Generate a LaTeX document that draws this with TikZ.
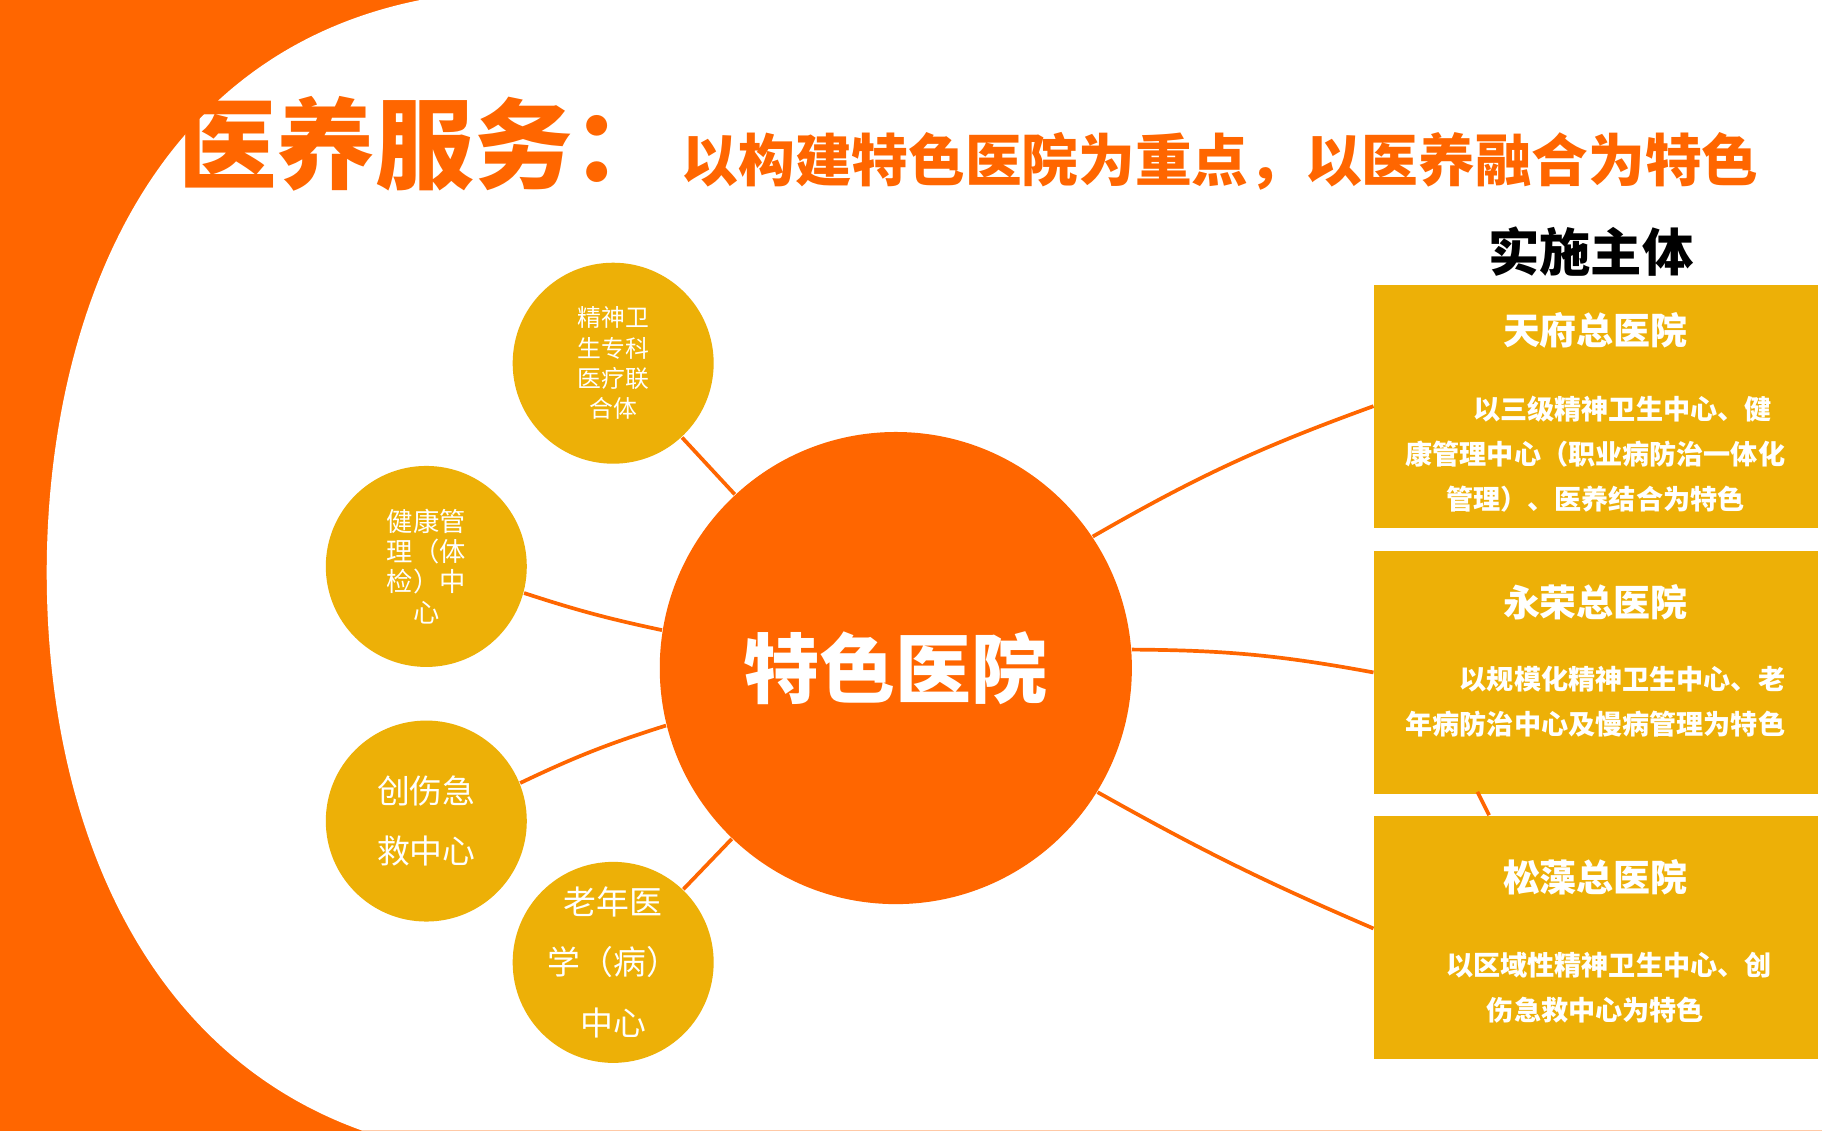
\documentclass[tikz,border=0pt]{standalone}
\usepackage{fontspec}
\setmainfont{Noto Sans CJK SC}
\usetikzlibrary{positioning}
\definecolor{brandorange}{HTML}{FF6600}
\definecolor{brandgold}{HTML}{EDB007}
\tikzset{
  bubble/.style={circle,fill=brandgold,minimum size=1.72cm,inner sep=0pt,text=white,align=center},
  hospbox/.style={fill=brandgold,minimum width=3.8cm,minimum height=2.08cm,inner sep=0pt},
  link/.style={draw=brandorange,line width=0.9pt}
}
\begin{document}
\begin{tikzpicture}[x=0.01cm,y=-0.01cm]
    \useasboundingbox (0,0) rectangle (1560,968);
    % background
    \fill[brandorange] (0,0) rectangle (1560,968);
    \fill[white] (360,0) .. controls (110,50) and (40,300) .. (40,490)
        .. controls (40,700) and (120,900) .. (310,968) -- (1560,968) -- (1560,0) -- cycle;

    % title
    \node[anchor=base west,text=brandorange,font=\bfseries\fontsize{24}{24}\selectfont,inner sep=0pt] (title) at (152,155) {医养服务：};
    \node[anchor=base west,text=brandorange,font=\bfseries\fontsize{13.8}{14}\selectfont,inner sep=0pt] (subtitle) at (583,155) {以构建特色医院为重点，以医养融合为特色};
    \node[font=\bfseries\fontsize{12.5}{13}\selectfont] (subject) at (1362,215) {实施主体};

    % hospitals
    \node[hospbox,anchor=north west] (tianfu) at (1176,243) {};
    \node[hospbox,anchor=north west] (yongrong) at (1176,471) {};
    \node[hospbox,anchor=north west] (songzao) at (1176,698) {};
    \draw[link] (1265,678) -- (1275,698);

    \node[text=white,font=\bfseries\fontsize{9}{10}\selectfont] at (1366,283) {天府总医院};
    \node[text=white,font=\bfseries\fontsize{6.6}{11}\selectfont,align=center] at (1366,389)
        {\hspace{2em}以三级精神卫生中心、健\\康管理中心（职业病防治一体化\\管理）、医养结合为特色};
    \node[text=white,font=\bfseries\fontsize{9}{10}\selectfont] at (1366,516) {永荣总医院};
    \node[text=white,font=\bfseries\fontsize{6.6}{11}\selectfont,align=center] at (1366,601)
        {\hspace{2em}以规模化精神卫生中心、老\\年病防治中心及慢病管理为特色};
    \node[text=white,font=\bfseries\fontsize{9}{10}\selectfont] at (1366,751) {松藻总医院};
    \node[text=white,font=\bfseries\fontsize{6.6}{11}\selectfont,align=center] at (1366,846)
        {\hspace{1em}以区域性精神卫生中心、创\\伤急救中心为特色};

    % centre
    \node[circle,fill=brandorange,minimum size=4.04cm,inner sep=0pt,text=white,
          font=\bfseries\fontsize{18.5}{19}\selectfont] (centre) at (767,572) {特色医院};

    \node[bubble,font=\fontsize{5.8}{7.4}\selectfont] (mental) at (525,311) {精神卫\\生专科\\医疗联\\合体};
    \node[bubble,font=\fontsize{6.4}{7.4}\selectfont] (health) at (365,485) {健康管\\理（体\\检）中\\心};
    \node[bubble,font=\fontsize{8}{14.8}\selectfont] (trauma) at (365,703) {创伤急\\救中心};
    \node[bubble,font=\fontsize{8}{14.8}\selectfont] (geriatric) at (525,824) {老年医\\学（病）\\中心};

    % connectors
    \draw[link] (mental) -- (centre);
    \draw[link] (health) to[bend right=3] (centre);
    \draw[link] (trauma) to[bend left=4] (centre);
    \draw[link] (geriatric) -- (centre);
    \draw[link] (centre) to[bend left=5] (tianfu.west);
    \draw[link] (centre) to[bend left=5] (yongrong.west);
    \draw[link] (centre) to[bend right=3] (1176,795);
\end{tikzpicture}
\end{document}
